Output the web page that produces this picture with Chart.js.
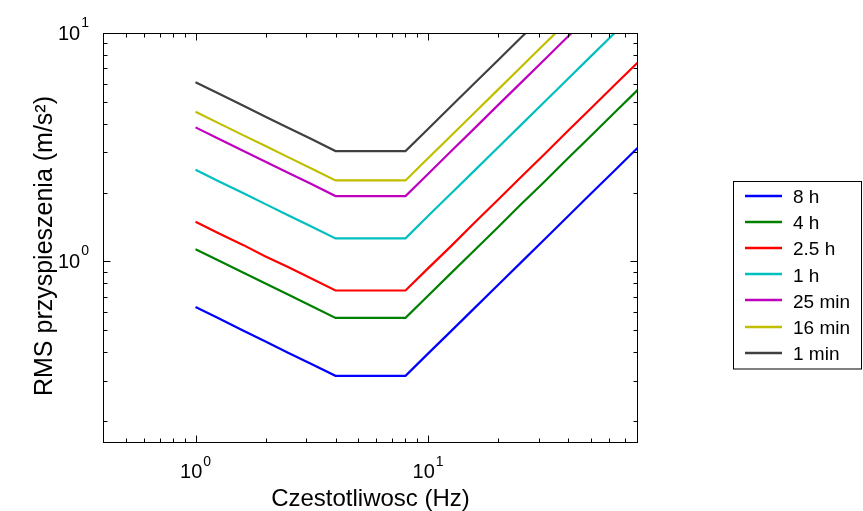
<!DOCTYPE html>
<html><head><meta charset="utf-8">
<script src="https://cdn.jsdelivr.net/npm/chart.js@4/dist/chart.umd.min.js"></script>
<style>html,body{margin:0;padding:0;background:#fff;overflow:hidden}#wrap{width:863px;height:511px;position:relative}</style>
</head><body><div id="wrap"><canvas id="c" width="863" height="511"></canvas></div>
<script>
// ---- data ----
const freqHz = [1, 1.25, 1.6, 2, 2.5, 3.15, 4, 5, 6.3, 8, 10, 12.5, 16, 20, 25, 31.5, 40, 50, 63, 80];
const seriesNames = ['8 h', '4 h', '2.5 h', '1 h', '25 min', '16 min', '1 min'];
const rms8h   = [0.63, 0.564, 0.498, 0.445, 0.398, 0.355, 0.315, 0.315, 0.315, 0.315, 0.394, 0.492, 0.63, 0.788, 0.984, 1.24, 1.575, 1.97, 2.48, 3.15];
const rms4h   = [1.13, 1.01, 0.893, 0.799, 0.715, 0.637, 0.565, 0.565, 0.565, 0.565, 0.706, 0.883, 1.13, 1.41, 1.77, 2.22, 2.83, 3.53, 4.45, 5.65];
const rms2h5  = [1.49, 1.33, 1.18, 1.05, 0.943, 0.84, 0.745, 0.745, 0.745, 0.745, 0.931, 1.16, 1.49, 1.86, 2.33, 2.93, 3.73, 4.66, 5.87, 7.45];
const rms1h   = [2.52, 2.25, 1.99, 1.78, 1.59, 1.42, 1.26, 1.26, 1.26, 1.26, 1.58, 1.97, 2.52, 3.15, 3.94, 4.96, 6.3, 7.88, 9.92, 12.6];
const rms25m  = [3.86, 3.45, 3.05, 2.73, 2.44, 2.18, 1.93, 1.93, 1.93, 1.93, 2.41, 3.02, 3.86, 4.83, 6.03, 7.6, 9.65, 12.1, 15.2, 19.3];
const rms16m  = [4.52, 4.04, 3.57, 3.2, 2.86, 2.55, 2.26, 2.26, 2.26, 2.26, 2.83, 3.53, 4.52, 5.65, 7.06, 8.9, 11.3, 14.1, 17.8, 22.6];
const rms1m   = [6.08, 5.44, 4.81, 4.3, 3.85, 3.43, 3.04, 3.04, 3.04, 3.04, 3.8, 4.75, 6.08, 7.6, 9.5, 11.97, 15.2, 19.0, 23.9, 30.4];
const xMajorTicks = [1, 10];
const xMinorTicks = [0.5, 0.6, 0.7, 0.8, 0.9, 2, 3, 4, 5, 6, 7, 8, 9, 20, 30, 40, 50, 60, 70];
const yMajorTicks = [1, 10];
const yMinorTicks = [0.2, 0.3, 0.4, 0.5, 0.6, 0.7, 0.8, 0.9, 2, 3, 4, 5, 6, 7, 8, 9];
const xTickExp = ['0', '1'];
const yTickExp = ['0', '1'];
const xTitle = 'Czestotliwosc (Hz)';
const yTitle = 'RMS przyspieszenia (m/s\u00B2)';

// ---- styling ----
const colors = ['#0000ff', '#008000', '#ff0000', '#00bfbf', '#bf00bf', '#bfbf00', '#404040'];
const allSeries = [rms8h, rms4h, rms2h5, rms1h, rms25m, rms16m, rms1m];
const FONT = "'Liberation Sans', Arial, Helvetica, sans-serif";

const datasets = allSeries.map((vals, i) => ({
  label: seriesNames[i],
  data: freqHz.map((f, j) => ({x: f, y: vals[j]})),
  borderColor: colors[i],
  backgroundColor: colors[i],
  borderWidth: 2.2,
  pointRadius: 0,
  fill: false,
  tension: 0,
  clip: 0
}));

const decor = {
  id: 'decor',
  beforeDraw(chart) {
    const c = chart.ctx;
    c.save(); c.fillStyle = '#fff'; c.fillRect(0, 0, chart.width, chart.height); c.restore();
  },
  afterDraw(chart) {
    const ctx = chart.ctx, a = chart.chartArea, xs = chart.scales.x, ys = chart.scales.y;
    ctx.save();
    const L = Math.round(a.left) + 0.5, R = Math.round(a.right) - 0.5, T = Math.round(a.top) + 0.5, B = Math.round(a.bottom) - 0.5;
    ctx.strokeStyle = '#000'; ctx.lineWidth = 1;
    ctx.strokeRect(L, T, R - L, B - T);
    ctx.beginPath();
    const xt = (vals, len) => vals.forEach(v => { const p = Math.round(xs.getPixelForValue(v)) + 0.5; ctx.moveTo(p, B); ctx.lineTo(p, B - len); ctx.moveTo(p, T); ctx.lineTo(p, T + len); });
    const yt = (vals, len) => vals.forEach(v => { const p = Math.round(ys.getPixelForValue(v)) + 0.5; ctx.moveTo(L, p); ctx.lineTo(L + len, p); ctx.moveTo(R, p); ctx.lineTo(R - len, p); });
    xt(xMajorTicks, 7); xt(xMinorTicks, 4); yt(yMajorTicks, 7); yt(yMinorTicks, 4);
    ctx.stroke();

    // tick labels
    ctx.fillStyle = '#000';
    ctx.textBaseline = 'alphabetic';
    const bigF = '20px ' + FONT, supF = '14px ' + FONT;
    xMajorTicks.forEach((v, i) => {
      ctx.font = bigF; const w1 = ctx.measureText('10').width;
      ctx.font = supF; const w2 = ctx.measureText(xTickExp[i]).width;
      const p = xs.getPixelForValue(v);
      const x0 = p - (w1 + w2 + 1) / 2;
      ctx.textAlign = 'left';
      ctx.font = bigF; ctx.fillText('10', x0, 478);
      ctx.font = supF; ctx.fillText(xTickExp[i], x0 + w1 + 1, 466);
    });
    yMajorTicks.forEach((v, i) => {
      ctx.font = supF; const w2 = ctx.measureText(yTickExp[i]).width;
      const p = ys.getPixelForValue(v);
      const xr = 89;
      ctx.textAlign = 'right';
      ctx.font = supF; ctx.fillText(yTickExp[i], xr, p - 6);
      ctx.font = bigF; ctx.fillText('10', xr - w2 - 1, p + 7);
    });

    // axis titles
    ctx.font = '24px ' + FONT;
    ctx.textAlign = 'center';
    ctx.fillText(xTitle, (a.left + a.right) / 2, 506);
    ctx.save();
    ctx.translate(52, 246);
    ctx.rotate(-Math.PI / 2);
    ctx.font = '25px ' + FONT;
    ctx.fillText(yTitle, 0, 0);
    ctx.restore();

    // legend
    const lx = 733.5, ly = 181.5, lw = 128, lh = 187.5;
    ctx.strokeStyle = '#000'; ctx.lineWidth = 1;
    ctx.strokeRect(lx, ly, lw, lh);
    ctx.font = '19px ' + FONT;
    ctx.textAlign = 'left';
    ctx.textBaseline = 'middle';
    seriesNames.forEach((n, i) => {
      const yy = 196 + i * 26.1;
      ctx.strokeStyle = colors[i]; ctx.lineWidth = 2.5;
      ctx.beginPath(); ctx.moveTo(745, Math.round(yy)); ctx.lineTo(782, Math.round(yy)); ctx.stroke();
      ctx.fillStyle = '#000';
      ctx.fillText(n, 793, yy + 2);
    });
    ctx.restore();
  }
};

new Chart(document.getElementById('c'), {
  type: 'line',
  data: { datasets },
  options: {
    responsive: false,
    animation: false,
    devicePixelRatio: 1,
    layout: { padding: { top: 33, right: 225, left: 0, bottom: 0 } },
    plugins: { legend: { display: false }, tooltip: { enabled: false } },
    scales: {
      x: {
        type: 'logarithmic', min: 0.4, max: 80,
        ticks: { display: false }, grid: { display: false }, border: { display: false },
        afterFit: s => { s.height = 68; }
      },
      y: {
        type: 'logarithmic', min: 0.16, max: 10,
        ticks: { display: false }, grid: { display: false }, border: { display: false },
        afterFit: s => { s.width = 103; }
      }
    }
  },
  plugins: [decor]
});
</script>
</body></html>
